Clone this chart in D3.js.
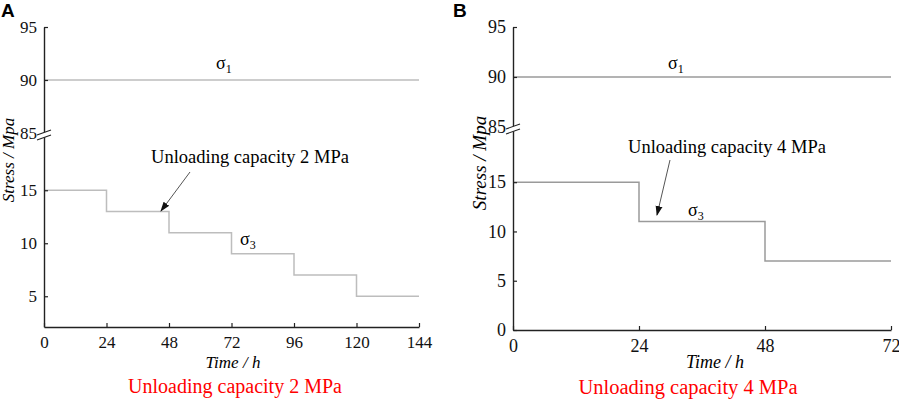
<!DOCTYPE html>
<html>
<head>
<meta charset="utf-8">
<script src="https://cdn.jsdelivr.net/npm/d3@7"></script>
<style>
  body { margin: 0; background: #fff; }
  svg { display: block; }
  text { font-family: "Liberation Serif", "Times New Roman", serif; }
</style>
</head>
<body>
<div id="chart"></div>
<script>
// data
var hoursA = [0, 24, 48, 72, 96, 120, 144];
var sigma3A = [15, 13, 11, 9, 7, 5];
var hoursB = [0, 24, 48, 72];
var sigma3B = [15, 11, 7];
var sigma1 = 90;
var upperTicks = [85, 90, 95];
var lowerTicksA = [5, 10, 15];
var lowerTicksB = [0, 5, 10, 15];
var titles = ["Unloading capacity 2 MPa", "Unloading capacity 4 MPa"];

var svg = d3.select("#chart").append("svg")
    .attr("width", 899)
    .attr("height", 399);

// step points: each value holds until the next hour mark
function stepPoints(hours, vals) {
    var pts = vals.map(function(v, i) { return {t: hours[i], v: v}; });
    pts.push({t: hours[hours.length - 1], v: vals[vals.length - 1]});
    return pts;
}

var panels = [
    {
        letter: "A", lx: 1,
        hours: hoursA, s3: sigma3A, lowTicks: lowerTicksA,
        x0: 44, x1: 419, top: 27, brk: 133, bottom: 327,
        lowDomain: [2.1, 20.4],
        lineColor: "#bdbdbd", fs: 17,
        ytitle: {x: 14, y: 160, fs: 17},
        note: {x: 250, y: 163, x1: 190, y1: 172, x2: 161, y2: 211},
        s1Lab: {x: 216, y: 69}, s3Lab: {x: 240, y: 245},
        xlab: {x: 233, y: 368}, title: {x: 235, y: 393, fs: 20}
    },
    {
        letter: "B", lx: 453,
        hours: hoursB, s3: sigma3B, lowTicks: lowerTicksB,
        x0: 513, x1: 891, top: 27, brk: 127, bottom: 330,
        lowDomain: [0, 20.6],
        lineColor: "#9a9a9a", fs: 18,
        ytitle: {x: 486, y: 163, fs: 19},
        note: {x: 727, y: 153, x1: 670, y1: 160, x2: 657, y2: 215},
        s1Lab: {x: 668, y: 69}, s3Lab: {x: 688, y: 216},
        xlab: {x: 715, y: 368}, title: {x: 688, y: 394, fs: 20.5}
    }
];

var defs = svg.append("defs");
defs.append("marker")
    .attr("id", "arrow")
    .attr("viewBox", "0 0 10 10")
    .attr("refX", 9).attr("refY", 5)
    .attr("markerWidth", 10).attr("markerHeight", 10)
    .attr("markerUnits", "userSpaceOnUse")
    .attr("orient", "auto")
    .append("path")
    .attr("d", "M0,1.5 L10,5 L0,8.5 Z")
    .attr("fill", "#111");

panels.forEach(function(p) {
    var g = svg.append("g");

    var x = d3.scaleLinear().domain([0, p.hours[p.hours.length - 1]]).range([p.x0, p.x1]);
    var yUp = d3.scaleLinear().domain([85, 95]).range([p.brk, p.top]);
    var yLow = d3.scaleLinear().domain(p.lowDomain).range([p.bottom, p.brk]);

    // data lines
    g.append("line")
        .attr("x1", x(0)).attr("x2", x(p.hours[p.hours.length - 1]))
        .attr("y1", yUp(sigma1)).attr("y2", yUp(sigma1))
        .attr("stroke", p.lineColor).attr("stroke-width", 1.5);

    var line = d3.line()
        .x(function(d) { return x(d.t); })
        .y(function(d) { return yLow(d.v); })
        .curve(d3.curveStepAfter);

    g.append("path")
        .datum(stepPoints(p.hours, p.s3))
        .attr("d", line)
        .attr("fill", "none")
        .attr("stroke", p.lineColor)
        .attr("stroke-width", 1.5);

    // axes
    var axisStyle = function(sel) {
        sel.attr("font-family", null).attr("font-size", null);
        sel.selectAll("path").attr("stroke", "#222").attr("stroke-width", 1.4);
        sel.selectAll("line").attr("stroke", "#222").attr("stroke-width", 1.2);
        sel.selectAll("text").attr("fill", "#111")
            .style("font-family", "'Liberation Serif', 'Times New Roman', serif")
            .style("font-size", p.fs + "px");
    };

    g.append("g")
        .attr("transform", "translate(" + p.x0 + ",0)")
        .call(d3.axisLeft(yUp).tickValues(upperTicks).tickSizeInner(-4).tickSizeOuter(0).tickPadding(7))
        .call(axisStyle);

    g.append("g")
        .attr("transform", "translate(" + p.x0 + ",0)")
        .call(d3.axisLeft(yLow).tickValues(p.lowTicks).tickSizeInner(-4).tickSizeOuter(0).tickPadding(7))
        .call(axisStyle);

    g.append("g")
        .attr("transform", "translate(0," + p.bottom + ")")
        .call(d3.axisBottom(x).tickValues(p.hours).tickSizeInner(-4).tickSizeOuter(0).tickPadding(9))
        .call(axisStyle);

    // axis break marks
    var bx = p.x0, by = p.brk;
    g.append("path")
        .attr("d", "M" + (bx - 7) + "," + (by + 2) + " L" + (bx + 7) + "," + (by - 3) +
                   " L" + (bx + 7) + "," + (by + 2) + " L" + (bx - 7) + "," + (by + 7) + "Z")
        .attr("fill", "#fff");
    [0, 5].forEach(function(off) {
        g.append("line")
            .attr("x1", bx - 7).attr("y1", by + 2 + off)
            .attr("x2", bx + 7).attr("y2", by - 3 + off)
            .attr("stroke", "#222").attr("stroke-width", 1.1);
    });

    // panel letter
    svg.append("text")
        .attr("x", p.lx).attr("y", 17)
        .style("font-family", "'Liberation Sans', Arial, sans-serif")
        .style("font-weight", "bold")
        .style("font-size", "19px")
        .text(p.letter);

    // sigma labels
    [[p.s1Lab, "1"], [p.s3Lab, "3"]].forEach(function(s) {
        var t = g.append("text")
            .attr("x", s[0].x).attr("y", s[0].y)
            .style("font-size", "18px")
            .text("σ");
        t.append("tspan")
            .attr("dy", 4)
            .style("font-size", "12px")
            .text(s[1]);
    });

    // annotation with arrow
    g.append("text")
        .attr("x", p.note.x).attr("y", p.note.y)
        .attr("text-anchor", "middle")
        .style("font-size", "18.5px")
        .text(titles[p.letter === "A" ? 0 : 1]);

    g.append("line")
        .attr("x1", p.note.x1).attr("y1", p.note.y1)
        .attr("x2", p.note.x2).attr("y2", p.note.y2)
        .attr("stroke", "#555").attr("stroke-width", 1)
        .attr("marker-end", "url(#arrow)");

    // axis titles
    g.append("text")
        .attr("transform", "translate(" + p.ytitle.x + "," + p.ytitle.y + ") rotate(-90)")
        .attr("text-anchor", "middle")
        .style("font-style", "italic")
        .style("font-size", p.ytitle.fs + "px")
        .text("Stress / Mpa");

    g.append("text")
        .attr("x", p.xlab.x).attr("y", p.xlab.y)
        .attr("text-anchor", "middle")
        .style("font-style", "italic")
        .style("font-size", p.fs + "px")
        .text("Time / h");

    g.append("text")
        .attr("x", p.title.x).attr("y", p.title.y)
        .attr("text-anchor", "middle")
        .attr("fill", "#ff0000")
        .style("font-size", p.title.fs + "px")
        .text(titles[p.letter === "A" ? 0 : 1]);
});
</script>
</body>
</html>
